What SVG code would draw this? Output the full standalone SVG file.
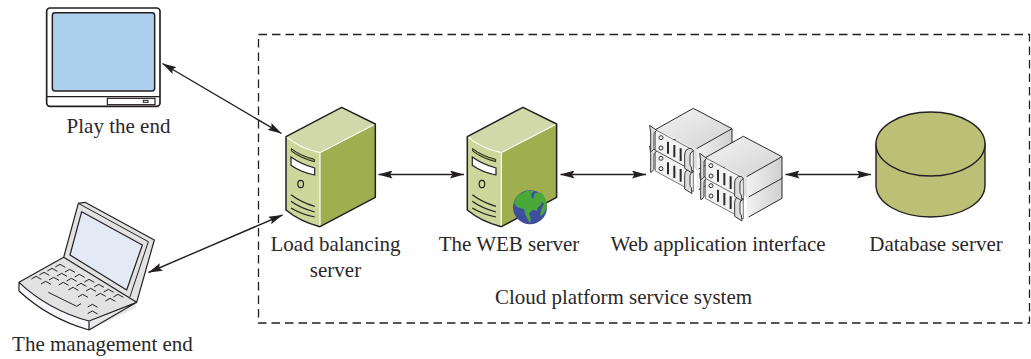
<svg xmlns="http://www.w3.org/2000/svg" xmlns:xlink="http://www.w3.org/1999/xlink" width="1031" height="359" viewBox="0 0 1031 359">
<style>
text{font-family:"Liberation Serif","Times New Roman",serif;font-size:21px;fill:#2b2728;text-anchor:middle}
.ln{fill:none;stroke:#231f20;stroke-width:3.6;stroke-linejoin:round;stroke-linecap:round}
.k{fill:none;stroke:#231f20;stroke-width:3;stroke-linejoin:round}
.conn{fill:none;stroke:#231f20;stroke-width:1.4;marker-start:url(#ah);marker-end:url(#ah)}
.bar{fill:none;stroke:#2a2a2a;stroke-width:6}
.ear{fill:#dcdcdc;stroke:#3a3a3a;stroke-width:3;stroke-linejoin:round}
</style>
<defs>
<marker id="ah" viewBox="0 0 14 8" refX="14" refY="4" markerWidth="14" markerHeight="8" markerUnits="userSpaceOnUse" orient="auto-start-reverse"><path d="M0 0L14 4L0 8L2.5 4Z" fill="#231f20"/></marker>
<linearGradient id="gt" x1="0" y1="0" x2="1" y2="1"><stop offset="0" stop-color="#f4f4f4"/><stop offset="1" stop-color="#d2d2d2"/></linearGradient>
<linearGradient id="gr" x1="0" y1="0" x2="1" y2="0"><stop offset="0" stop-color="#f2f2f2"/><stop offset="1" stop-color="#cfcfcf"/></linearGradient>
<g id="tower">
<path d="M78 140L245 52L346 102L180 188Q120 175 78 140Z" fill="#d1d9aa"/>
<path d="M78 140Q120 175 180 188L180 410Q120 395 78 360Z" fill="#cdd69b"/>
<path d="M180 188L346 102L346 322L180 410Z" fill="#9fae4e"/>
<path d="M78 140Q120 175 180 188L346 102M180 188V410" fill="none" stroke="#fff" stroke-width="3.5"/>
<path d="M78 140L245 52L346 102V322L180 410Q120 395 78 360Z" class="ln" style="stroke-width:4.5"/>
<path d="M94 176Q122 198 163 208L163 215Q122 205 94 183Z" fill="#9fae4e" stroke="#231f20" stroke-width="3"/>
<path d="M93 201Q122 222 164 234V255Q122 247 93 226Z" fill="#fff" stroke="#231f20" stroke-width="3.5"/>
<ellipse cx="122" cy="282" rx="8.5" ry="11" fill="none" stroke="#231f20" stroke-width="3.5"/>
<path d="M93 314Q122 336 164 349M93 334Q122 355 164 366M93 354Q122 372 164 381" fill="none" stroke="#231f20" stroke-width="3.5"/>
</g>
<g id="unit">
<path d="M226 188L340 124L456 185L350 245Z" fill="url(#gt)"/>
<path d="M350 245L456 185V250L350 310Z" fill="url(#gr)"/>
<path d="M226 188L340 124L456 185V250L356 306M350 245L456 185" fill="none" stroke="#2a2a2a" stroke-width="3"/>
<path d="M226 188L340 250V312L226 250Z" fill="#f2f2f2" stroke="#3a3a3a" stroke-width="2"/>
<circle cx="243" cy="212" r="6" fill="#eee" stroke="#333" stroke-width="3"/>
<circle cx="243" cy="243" r="6" fill="#eee" stroke="#333" stroke-width="3"/>
<path d="M264 224V260M283 234V271M302 244V282" class="bar"/>
<path d="M209 175L230 190Q219 197 222 208V245Q218 252 212 254V240V198Z" class="ear"/>
<path d="M334 244Q314 244 314 264V304L336 318L334 300Q330 298 330 290V264Q330 256 340 252Z" class="ear"/>
</g>
<path id="key" d="M-14 6L0 -2L16 7" class="k"/>
</defs>
<rect x="258.500" y="34.500" width="771" height="288.500" fill="none" stroke="#231f20" stroke-width="1.300" stroke-dasharray="8.500 5"/>
<g id="connectors">
<path class="conn" d="M162.500 63.500L281.500 133.500"/>
<path class="conn" d="M148.500 272.500L282.500 215"/>
<path class="conn" d="M378.500 174.500H464"/>
<path class="conn" d="M560.500 174.500H646"/>
<path class="conn" d="M785.500 174.500H871"/>
</g>
<g id="play-end" transform="scale(.33333)">
<rect x="140" y="24" width="340" height="295" rx="10" fill="#fff" stroke="#231f20" stroke-width="5"/>
<rect x="157" y="38" width="307" height="235" rx="8" fill="#abd0ee" stroke="#231f20" stroke-width="4.500"/>
<path d="M140 290H480" stroke="#231f20" stroke-width="4" fill="none"/>
<rect x="322" y="295" width="143" height="19" fill="#fff" stroke="#231f20" stroke-width="3.500"/>
<rect x="430" y="301" width="14" height="6" fill="#fff" stroke="#231f20" stroke-width="3"/>
</g>
<text x="118.500" y="133">Play the end</text>
<g id="management-end" transform="translate(15 195) scale(.33333)">
<path d="M12 262L146 187L190 25L210 22L418 135L365 322L222 378L222 405Q100 370 12 288Z" fill="#e2e2e2"/>
<path d="M12 262Q100 345 222 378V405Q100 370 12 288Z" fill="#f6f8fd"/>
<path d="M222 378L365 322L362 340L222 405Z" fill="#e8e8e8"/>
<path d="M146 187L190 25L210 22L418 135L365 322L222 405Q100 370 12 288V262L146 187L365 322M12 262Q100 345 222 378V405M222 378L365 322" class="ln"/>
<path d="M190 25L400 140L345 305" class="ln" style="stroke-width:3"/>
<path d="M200 50L382 150L335 285L165 180Z" fill="#e3eaf6" stroke="#231f20" stroke-width="3.600" stroke-linejoin="round"/>
<use href="#key" x="135" y="210"/><use href="#key" x="164" y="225"/><use href="#key" x="193" y="240"/><use href="#key" x="222" y="255"/><use href="#key" x="251" y="270"/><use href="#key" x="280" y="285"/><use href="#key" x="309" y="300"/>
<use href="#key" x="111" y="222"/><use href="#key" x="140" y="237"/><use href="#key" x="169" y="252"/><use href="#key" x="198" y="267"/><use href="#key" x="227" y="282"/><use href="#key" x="256" y="297"/><use href="#key" x="285" y="312"/>
<use href="#key" x="87" y="234"/><use href="#key" x="116" y="249"/><use href="#key" x="145" y="264"/><use href="#key" x="174" y="279"/><use href="#key" x="203" y="300"/><use href="#key" x="232" y="330"/><use href="#key" x="232" y="350"/>
<use href="#key" x="63" y="246"/><use href="#key" x="92" y="261"/>
<path d="M100 292L185 334L198 326" class="k"/>
</g>
<text x="102.500" y="351">The management end</text>
<g id="load-balancing" transform="translate(260 90) scale(.33333)"><use href="#tower"/></g>
<text x="335.500" y="251">Load balancing</text>
<text x="335.500" y="277">server</text>
<g id="web-server">
<g transform="translate(441.300 90) scale(.33333)"><use href="#tower"/></g>
<circle cx="530" cy="207.300" r="17" fill="#3f4d9f"/>
<path d="M517 196Q524 190 534 191Q529 195 533 199L535 193Q540 192 543 197L541 205Q537 207 537 211Q532 208 529 214Q532 219 530 223Q525 216 524 209Q516 208 514 203Z" fill="#4aa83a"/>
<path d="M540 192Q547 197 547 207Q544 215 540 216Q541 208 544 204Q538 199 540 192Z" fill="#4aa83a"/>
</g>
<text x="509" y="251">The WEB server</text>
<g id="web-app-interface" transform="translate(630 95) scale(.33333)">
<g transform="translate(-150 -22)"><use href="#unit"/></g>
<g transform="translate(-150 -84)"><use href="#unit"/></g>
<g transform="translate(0 60)"><use href="#unit"/></g>
<use href="#unit"/>
</g>
<text x="718" y="251">Web application interface</text>
<g id="database-server">
<path d="M876 144V185C876 203 900 217 930.500 217S985 203 985 185V144Z" fill="#bcc077" stroke="#231f20" stroke-width="1.400"/>
<ellipse cx="930.500" cy="144" rx="54.500" ry="32" fill="#bcc077" stroke="#231f20" stroke-width="1.400"/>
</g>
<text x="936" y="251">Database server</text>
<text x="623.500" y="304">Cloud platform service system</text>
</svg>
